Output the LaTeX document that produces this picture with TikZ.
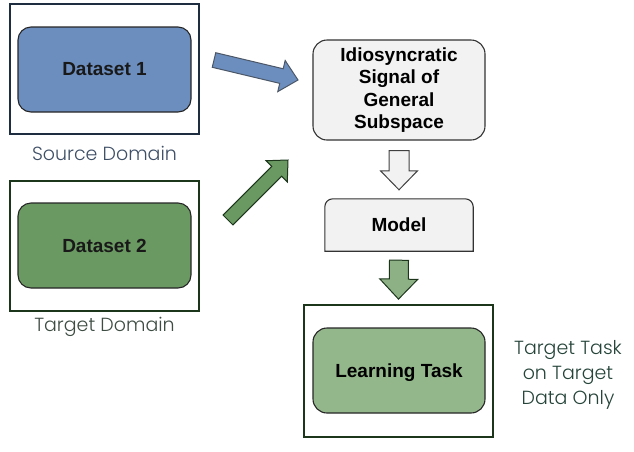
\documentclass[tikz,border=0pt]{standalone}
\usepackage{fontspec}
\setmainfont{Liberation Sans}
\newfontfamily\pop{Poppins}[UprightFont={* Light}]
\usetikzlibrary{calc}
\definecolor{navyline}{HTML}{1E2D40}
\definecolor{greenline}{HTML}{1C361C}
\definecolor{bluefill}{HTML}{6C8EBF}
\definecolor{greenfill}{HTML}{6A9A62}
\definecolor{lightgreen}{HTML}{93B78B}
\definecolor{arrowgreen}{HTML}{8DB185}
\definecolor{grayfill}{HTML}{F2F2F2}
\definecolor{srctext}{HTML}{3E4F66}
\definecolor{tgttext}{HTML}{3E4D44}
\definecolor{tasktext}{HTML}{25443A}
\newcommand{\barrowx}[6]{%
  \coordinate (hh) at ($(#3)!#6!(#2)$);
  \draw[#1] ($(#2)!#4!90:(#3)$) -- ($(hh)!#4!90:(#3)$) -- ($(hh)!#5!90:(#3)$) -- (#3)
    -- ($(hh)!#5!-90:(#3)$) -- ($(hh)!#4!-90:(#3)$) -- ($(#2)!#4!-90:(#3)$) -- cycle;}
\tikzset{
  outerbox/.style={draw, line width=1.8pt, minimum width=189pt, minimum height=130pt, inner sep=0pt},
  innerbox/.style={draw=black!85, line width=1.1pt, rounded corners=13pt, inner sep=0pt,
    font=\fontsize{19}{22.5}\selectfont\bfseries, align=center},
  domlabel/.style={font=\pop\fontsize{19}{25}\selectfont, align=center},
  blockarr/.style={line width=1pt, line join=miter},
}
\begin{document}
\begin{tikzpicture}[x=1pt,y=-1pt]
\useasboundingbox (0,0) rectangle (634,451);
% source domain
\node[outerbox, draw=navyline] (src) at (104.5,69) {};
\node[innerbox, fill=bluefill, minimum width=173pt, minimum height=85pt, text=black!90] (ds1) at (104.5,69.5) {Dataset 1};
\node[domlabel, text=srctext] (srclab) at (104.5,153.5) {Source Domain};
% target domain
\node[outerbox, draw=greenline] (tgt) at (104.5,246) {};
\node[innerbox, fill=greenfill, minimum width=173pt, minimum height=85pt, text=black!90] (ds2) at (104.5,245.5) {Dataset 2};
\node[domlabel, text=tgttext] (tgtlab) at (104.5,327) {Target Domain};
% idiosyncratic signal
\node[innerbox, fill=grayfill, draw=black!80, rounded corners=14pt, minimum width=172pt, minimum height=100pt] (idio) at (399,90) {Idiosyncratic\\Signal of\\General\\Subspace};
% model
\node[inner sep=0pt, minimum width=148pt, minimum height=52pt] (model) at (399,225) {};
\draw[fill=grayfill, draw=black!80, line width=1.1pt] (model.south west) [rounded corners=8pt] -- (model.north west) -- (model.north east) [sharp corners] -- (model.south east) -- cycle;
\node[font=\fontsize{19}{22.5}\selectfont\bfseries] (modeltxt) at (model.center) {Model};
% learning task
\node[outerbox, draw=greenline, minimum height=132pt] (learn) at (398.5,371) {};
\node[draw=black!85, line width=1.1pt, rounded corners=14pt, fill=lightgreen, minimum width=172pt, minimum height=85pt] (task) at (399,370.5) {};
\node[font=\fontsize{19}{22.5}\selectfont\bfseries] (tasktxt) at ($(task.center)+(0,2)$) {Learning Task};
\node[domlabel, text=tasktext] (tasklab) at (568,374.5) {Target Task\\on Target\\Data Only};
% block arrows
\coordinate (a1s) at (214,60);
\coordinate (a1e) at (298,80);
\barrowx{blockarr, fill=bluefill, draw=navyline!80}{a1s}{a1e}{7.5pt}{16pt}{17pt}
\coordinate (a2s) at (228,220);
\coordinate (a2e) at (288,160);
\barrowx{blockarr, fill=greenfill, draw=greenline}{a2s}{a2e}{7pt}{15pt}{16pt}
\coordinate (a3s) at ($(idio.south)+(0,10)$);
\coordinate (a3e) at ($(model.north)+(0,-9)$);
\barrowx{blockarr, fill=grayfill, draw=black!75}{a3s}{a3e}{10pt}{18.5pt}{19pt}
\coordinate (a4s) at ($(model.south)+(0,9)$);
\coordinate (a4e) at ($(learn.north)+(0,-5)$);
\barrowx{blockarr, fill=arrowgreen, draw=greenline}{a4s}{a4e}{9.5pt}{19pt}{20pt}
\end{tikzpicture}
\end{document}
